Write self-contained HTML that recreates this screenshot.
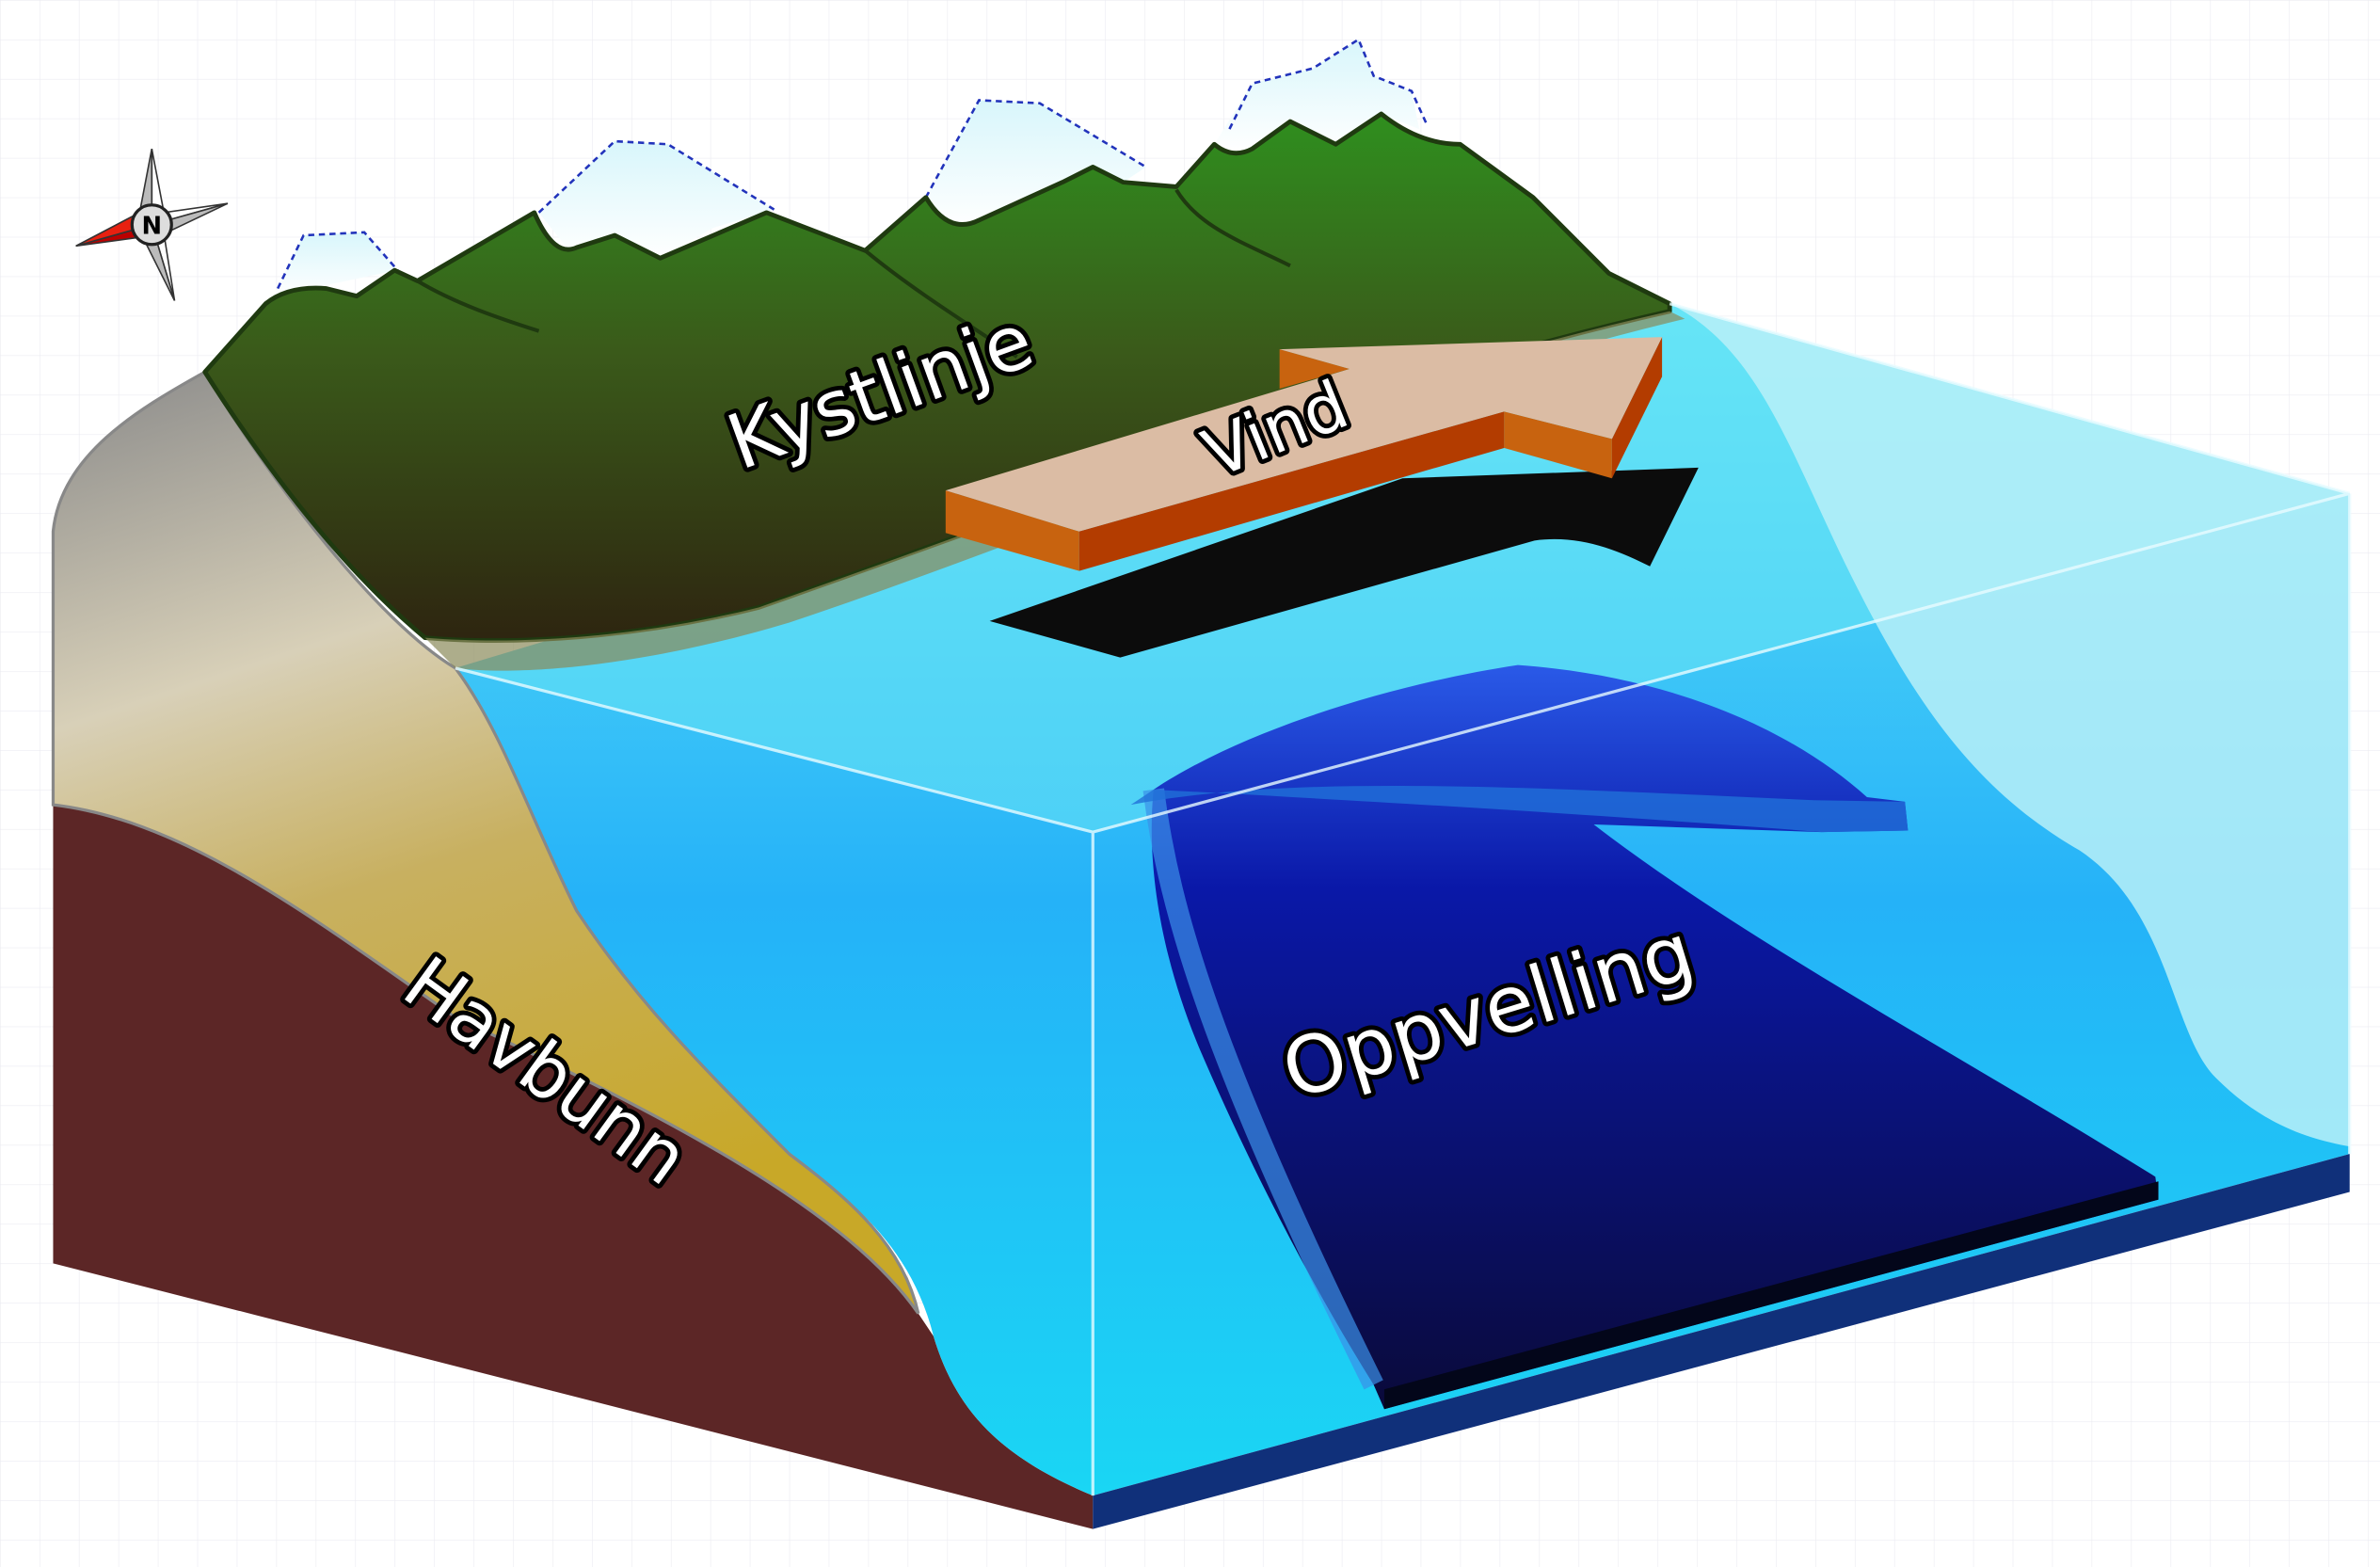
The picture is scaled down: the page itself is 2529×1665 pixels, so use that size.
<!DOCTYPE html>
<html><head><meta charset="utf-8"><style>
html,body{margin:0;padding:0;background:#fff;}
svg{display:block;}
text{font-family:"DejaVu Sans","Liberation Sans",sans-serif;font-weight:normal;fill:#fff;stroke:#000;stroke-width:6;paint-order:stroke;stroke-linejoin:round;}
</style></head><body>
<svg width="2529" height="1665" viewBox="0 0 1568 1032" preserveAspectRatio="none" xmlns="http://www.w3.org/2000/svg">
<defs>
<pattern id="grid" width="26" height="26" patternUnits="userSpaceOnUse"><path d="M26 0H0V26" fill="none" stroke="#ececf2" stroke-width="0.8"/></pattern>
<linearGradient id="water" x1="0" y1="0" x2="0" y2="1"><stop offset="0" stop-color="#62e4f6"/><stop offset="0.5" stop-color="#25b2f8"/><stop offset="1" stop-color="#1ad6f4"/></linearGradient>
<linearGradient id="land" x1="0" y1="0" x2="0" y2="1"><stop offset="0" stop-color="#2f8f1e"/><stop offset="0.45" stop-color="#3a5a1a"/><stop offset="1" stop-color="#2e2510"/></linearGradient>
<linearGradient id="tan" x1="0" y1="0" x2="0.3" y2="1"><stop offset="0" stop-color="#8a8a8a"/><stop offset="0.35" stop-color="#d8d0b8"/><stop offset="0.6" stop-color="#c8b060"/><stop offset="1" stop-color="#c8a828"/></linearGradient>
<linearGradient id="up" x1="0" y1="0" x2="0" y2="1"><stop offset="0" stop-color="#2a5ae8"/><stop offset="0.3" stop-color="#0a18a8"/><stop offset="1" stop-color="#0a0a3a"/></linearGradient>
<linearGradient id="snow" x1="0" y1="0" x2="0" y2="1"><stop offset="0" stop-color="#d8f6fb"/><stop offset="1" stop-color="#ffffff"/></linearGradient>
</defs>
<rect width="1568" height="1032" fill="#fff"/>
<rect width="1568" height="1032" fill="url(#grid)"/>

<!-- brown block -->
<path d="M35,530 C120,540 200,600 300,670 C450,740 560,800 605,865 L615,880 C630,930 660,960 720,985 L720,1007 L35,832 Z" fill="#5c2626"/>
<!-- water -->
<path d="M300,440 L1100,200 L1548,325 L1548,760 L720,985 C660,960 630,930 615,880 C600,820 560,790 520,760 C460,700 420,660 380,600 C350,540 330,480 300,440 Z" fill="url(#water)"/>
<!-- top face -->
<path d="M300,440 L720,548 L1548,325 L1100,200 Z" fill="#6ae6f6" opacity="0.55"/>
<!-- base strip -->
<path d="M720,985 L1548,760 L1548,785 L720,1007 Z" fill="#10307a"/>
<!-- tan slope -->
<path d="M35,530 L35,350 C40,300 90,270 135,245 C180,320 250,410 300,440 C330,480 350,540 380,600 C420,660 460,700 520,760 C560,790 595,820 605,865 C560,800 450,740 300,670 C200,600 120,540 35,530 Z" fill="url(#tan)" stroke="#888" stroke-width="2"/>
<!-- snow caps -->
<path d="M180,195 L200,155 L240,153 L262,178 Z" fill="url(#snow)"/>
<path d="M355,140 L405,93 L440,95 L510,138 L470,150 L435,170 L405,155 L375,165 Z" fill="url(#snow)"/>
<path d="M610,130 L645,66 L685,68 L755,110 L740,120 L720,110 L660,140 L630,150 Z" fill="url(#snow)"/>
<path d="M800,95 L825,55 L865,45 L895,26 L905,50 L930,60 L935,85 L910,75 L880,95 L850,80 L820,100 Z" fill="url(#snow)"/>
<path d="M183,190 L200,155 L240,153 L262,178 M355,140 L405,93 L440,95 L510,138 M610,130 L645,66 L685,68 L755,110 M810,85 L825,55 L865,45 L895,26 L905,50 L930,60 L940,82" fill="none" stroke="#2233bb" stroke-width="1.6" stroke-dasharray="4,3"/>
<!-- land -->
<path d="M135,245 L175,200 Q190,188 215,190 L235,195 L260,178 L275,185 L352,140 Q365,170 380,163 L405,155 L435,170 L505,140 L570,165 L610,130 Q625,155 645,145 L700,120 L720,110 L740,120 L775,123 L800,95 Q812,105 825,98 L850,80 L880,95 L910,75 Q935,95 962,95 L1010,130 L1060,180 L1100,200 L1100,205 C900,250 700,330 500,400 C420,420 340,425 280,420 C220,370 170,300 135,245 Z" fill="url(#land)" stroke="#1f3a10" stroke-width="3" stroke-linejoin="round"/>
<path d="M275,185 C300,200 330,210 355,218 M570,165 C600,190 640,215 670,235 M775,125 C790,150 820,160 850,175" fill="none" stroke="#1f3a10" stroke-width="2.5"/>
<!-- land bottom tan band under water -->
<path d="M280,420 C340,425 420,420 500,400 C700,330 900,250 1100,205 L1110,210 C900,260 700,350 520,410 C420,440 340,445 300,440 Z" fill="#8a8a5a" opacity="0.7"/>
<!-- right light face -->
<path d="M1100,200 C1160,230 1180,300 1220,380 C1260,460 1300,520 1370,560 C1430,600 1430,680 1460,710 C1490,740 1520,750 1548,755 L1548,325 Z" fill="#b8f0f8" opacity="0.85"/>
<!-- upwelling -->
<path d="M760,520 C820,480 920,450 1000,438 C1100,445 1180,480 1230,525 L1255,528 L1257,547 L1200,548 L1050,543 C1150,620 1300,700 1420,775 L1422,790 L912,928 L905,912 C860,840 820,760 790,690 C765,630 755,570 760,520 Z" fill="url(#up)"/>
<path d="M760,520 C770,600 800,700 905,912" fill="none" stroke="#3a90e8" stroke-width="14" opacity="0.7"/>
<path d="M912,915 L1422,778 L1422,790 L912,928 Z" fill="#03061a"/>
<path d="M745,530 C850,510 1000,518 1195,527 L1255,528 L1257,547 L1200,548 C1100,540 950,530 760,520 Z" fill="#2070d8" opacity="0.8"/>
<!-- top edge lines -->
<path d="M300,440 L720,548 L1548,325 M720,548 L720,985 M1100,200 L1548,325 M1548,325 L1548,760" fill="none" stroke="#e8fbff" stroke-width="2" opacity="0.8"/>
<!-- shadow -->
<path d="M652,409 L738,433 L1011,356 C1040,352 1065,362 1087,373 L1119,308 L924,315 L901,323 Z" fill="#0c0c0c"/>
<!-- arrow -->
<path d="M623,323 L711,350 L711,376 L623,351 Z" fill="#c8630f"/>
<path d="M711,350 L991,271 L991,295 L711,376 Z" fill="#b33c00"/>
<path d="M991,271 L1062,289 L1062,315 L991,295 Z" fill="#c8630f"/>
<path d="M1062,289 L1095,222 L1095,248 L1062,315 Z" fill="#b33c00"/>
<path d="M843,230 L889,243 L843,256 Z" fill="#c8630f"/>
<path d="M623,323 L711,350 L991,271 L1062,289 L1095,222 L843,230 L889,243 Z" fill="#dbbca4"/>
<!-- compass -->
<g transform="translate(100,148)">
<path d="M0,-50 L8,-8 L0,0 Z" fill="#fff" stroke="#333"/><path d="M0,-50 L-8,-8 L0,0 Z" fill="#bbb" stroke="#333"/>
<path d="M50,-14 L8,-8 L0,0 Z" fill="#fff" stroke="#333"/><path d="M50,-14 L8,6 L0,0 Z" fill="#bbb" stroke="#333"/>
<path d="M15,50 L8,6 L0,0 Z" fill="#fff" stroke="#333"/><path d="M15,50 L-6,8 L0,0 Z" fill="#bbb" stroke="#333"/>
<path d="M-50,14 L-6,8 L0,0 Z" fill="#b00" stroke="#333"/><path d="M-50,14 L-8,-8 L0,0 Z" fill="#e82010" stroke="#333"/>
<circle r="13" fill="#ddd" stroke="#222" stroke-width="2"/>
<text x="0" y="6" text-anchor="middle" font-size="16" style="fill:#000;stroke:none;font-weight:bold">N</text>
</g>
<!-- labels -->
<text x="580" y="275" font-size="50" text-anchor="middle" transform="rotate(-20 580 258)">Kystlinje</text>
<text x="840" y="298" font-size="44" text-anchor="middle" transform="rotate(-22 840 282)">Vind</text>
<text x="360" y="722" font-size="48" text-anchor="middle" transform="rotate(36 360 705)">Havbunn</text>
<text x="980" y="684" font-size="52" text-anchor="middle" transform="rotate(-17 980 665)">Oppvelling</text>
</svg>
</body></html>
